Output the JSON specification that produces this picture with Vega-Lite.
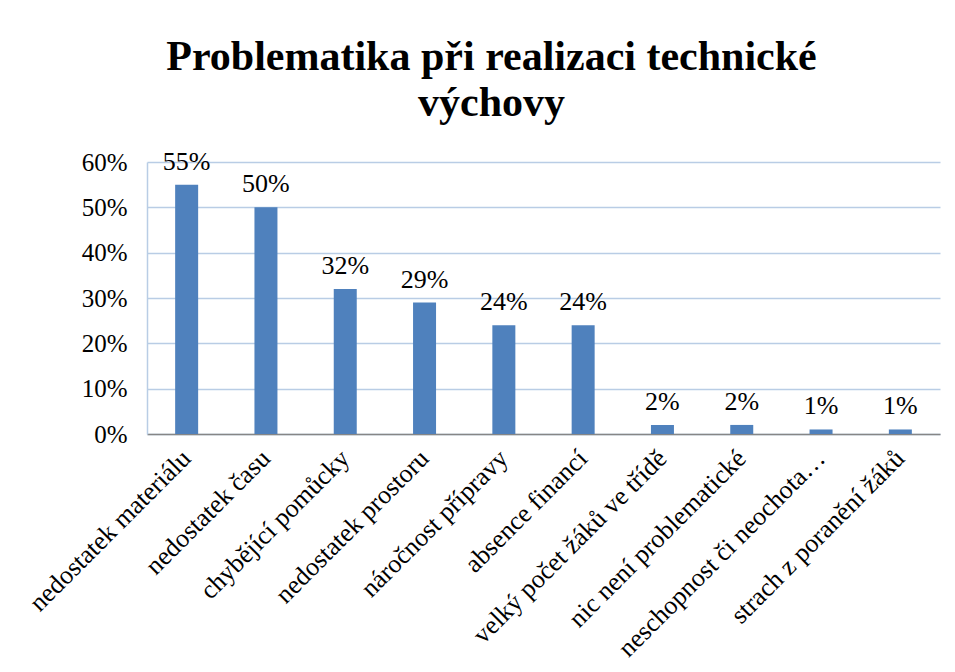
{
  "$schema": "https://vega.github.io/schema/vega-lite/v6.json",
  "width": 793,
  "height": 272,
  "autosize": {"type": "none"},
  "padding": {"left": 147, "top": 162, "right": 15, "bottom": 238},
  "background": "white",
  "title": {
    "text": ["Problematika při realizaci technické", "výchovy"],
    "font": "Liberation Serif",
    "fontSize": 42,
    "fontWeight": "bold",
    "color": "black",
    "anchor": "middle",
    "lineHeight": 46,
    "offset": 24,
    "dx": -52
  },
  "data": {
    "values": [
      {"kategorie": "nedostatek materiálu", "podil": 0.55},
      {"kategorie": "nedostatek času", "podil": 0.50},
      {"kategorie": "chybějící pomůcky", "podil": 0.32},
      {"kategorie": "nedostatek prostoru", "podil": 0.29},
      {"kategorie": "náročnost přípravy", "podil": 0.24},
      {"kategorie": "absence financí", "podil": 0.24},
      {"kategorie": "velký počet žáků ve třídě", "podil": 0.02},
      {"kategorie": "nic není problematické", "podil": 0.02},
      {"kategorie": "neschopnost či neochota…", "podil": 0.01},
      {"kategorie": "strach z poranění žáků", "podil": 0.01}
    ]
  },
  "encoding": {
    "x": {
      "field": "kategorie",
      "type": "nominal",
      "sort": null,
      "scale": {"paddingInner": 0.71, "paddingOuter": 0.355},
      "axis": {
        "title": null,
        "labelAngle": -45,
        "labelAlign": "right",
        "labelBaseline": "middle",
        "labelFont": "Liberation Serif",
        "labelFontSize": 26,
        "labelColor": "black",
        "labelPadding": 20,
        "ticks": false,
        "domainColor": "#868686",
        "domainWidth": 1.5,
        "labelLimit": 400
      }
    },
    "y": {
      "field": "podil",
      "type": "quantitative",
      "scale": {"domain": [0, 0.6]},
      "axis": {
        "title": null,
        "format": ".0%",
        "values": [0, 0.1, 0.2, 0.3, 0.4, 0.5, 0.6],
        "labelFont": "Liberation Serif",
        "labelFontSize": 25,
        "labelColor": "black",
        "labelPadding": 20,
        "ticks": false,
        "domainColor": "#B9CDE5",
        "domainWidth": 1.5,
        "gridColor": "#B9CDE5",
        "gridWidth": 1.5
      }
    }
  },
  "layer": [
    {"mark": {"type": "bar", "color": "#4F81BD"}},
    {
      "mark": {"type": "text", "baseline": "alphabetic", "dy": -15, "font": "Liberation Serif", "fontSize": 26, "color": "black"},
      "encoding": {"text": {"field": "podil", "type": "quantitative", "format": ".0%"}}
    }
  ],
  "config": {"view": {"stroke": null}}
}
